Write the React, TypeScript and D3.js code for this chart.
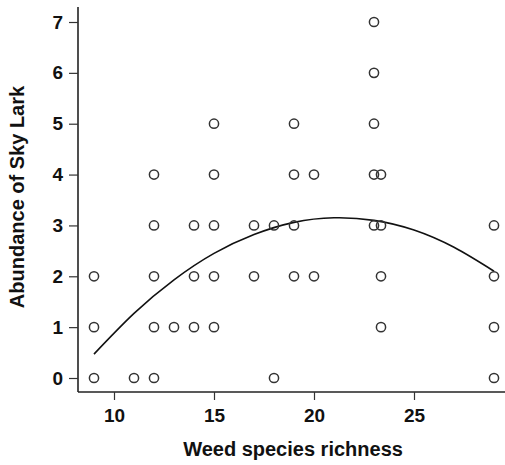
import React, { useRef, useEffect } from "react";
import { select, scaleLinear, line, curveNatural, axisBottom, axisLeft, format } from "d3";

// observed points: weed species richness vs sky lark abundance
const richness = [
  9, 9, 9, 11, 12, 12, 12, 12, 12, 13, 14, 14, 14, 15, 15, 15, 15, 15, 17, 17,
  18, 18, 19, 19, 19, 19, 20, 20, 23, 23, 23, 23, 23, 23.35, 23.35, 23.35,
  23.35, 29, 29, 29, 29,
];
const abundance = [
  0, 1, 2, 0, 0, 1, 2, 3, 4, 1, 1, 2, 3, 1, 2, 3, 4, 5, 2, 3, 0, 3, 2, 3, 4, 5,
  2, 4, 3, 4, 5, 6, 7, 1, 2, 3, 4, 0, 1, 2, 3,
];

// fitted curve
const fitX = [9, 11, 13, 15, 17, 19, 21, 23, 25, 27, 29];
const fitY = [0.47, 1.27, 1.93, 2.45, 2.82, 3.06, 3.15, 3.1, 2.91, 2.57, 2.1];

const xTicks = [10, 15, 20, 25];
const yTicks = [0, 1, 2, 3, 4, 5, 6, 7];

export default function App() {
  const svgRef = useRef<SVGSVGElement>(null);

  useEffect(() => {
    const svg = select(svgRef.current);
    const font = "'Liberation Sans', Arial, sans-serif";

    const xScale = scaleLinear().domain([9, 29]).range([94, 494]);
    const yScale = scaleLinear().domain([0, 7]).range([378, 22]);

    svg.selectAll("*").remove();

    // axes
    const xAxis = svg
      .append("g")
      .attr("transform", "translate(0,392)")
      .call(
        axisBottom(xScale)
          .tickValues(xTicks)
          .tickFormat(format("d"))
          .tickSize(8)
          .tickPadding(9)
          .tickSizeOuter(0)
      );
    xAxis.select(".domain").attr("d", "M78,0H505");

    const yAxis = svg
      .append("g")
      .attr("transform", "translate(78,0)")
      .call(
        axisLeft(yScale)
          .tickValues(yTicks)
          .tickFormat(format("d"))
          .tickSize(9)
          .tickPadding(6)
          .tickSizeOuter(0)
      );
    yAxis.select(".domain").attr("d", "M0,392V7");

    svg.selectAll(".domain").attr("stroke", "#222").attr("stroke-width", 1.6);
    svg.selectAll(".tick line").attr("stroke", "#333").attr("stroke-width", 1.2);
    svg
      .selectAll(".tick text")
      .attr("fill", "#111")
      .style("font-family", font)
      .style("font-weight", "700")
      .style("font-size", "19px");

    // fitted line
    const pts = fitX.map((x, i) => [x, fitY[i]] as [number, number]);
    const lineGenerator = line<[number, number]>()
      .x((d) => xScale(d[0]))
      .y((d) => yScale(d[1]))
      .curve(curveNatural);
    svg
      .append("path")
      .datum(pts)
      .attr("fill", "none")
      .attr("stroke", "#111")
      .attr("stroke-width", 1.6)
      .attr("d", lineGenerator);

    // points
    svg
      .append("g")
      .selectAll("circle")
      .data(richness)
      .join("circle")
      .attr("cx", (d) => xScale(d))
      .attr("cy", (d, i) => yScale(abundance[i]))
      .attr("r", 4.6)
      .attr("fill", "none")
      .attr("stroke", "#333")
      .attr("stroke-width", 1.5);

    // axis titles
    svg
      .append("text")
      .attr("x", 293)
      .attr("y", 456)
      .attr("text-anchor", "middle")
      .style("font-family", font)
      .style("font-weight", "700")
      .style("font-size", "20px")
      .attr("fill", "#111")
      .text("Weed species richness");

    svg
      .append("text")
      .attr("transform", "translate(24,197) rotate(-90)")
      .attr("text-anchor", "middle")
      .style("font-family", font)
      .style("font-weight", "700")
      .style("font-size", "20px")
      .attr("fill", "#111")
      .text("Abundance of Sky Lark");
  }, []);

  return (
    <svg
      ref={svgRef}
      width={505}
      height={465}
      style={{ position: "absolute", left: 0, top: 0, background: "#fff" }}
    />
  );
}
